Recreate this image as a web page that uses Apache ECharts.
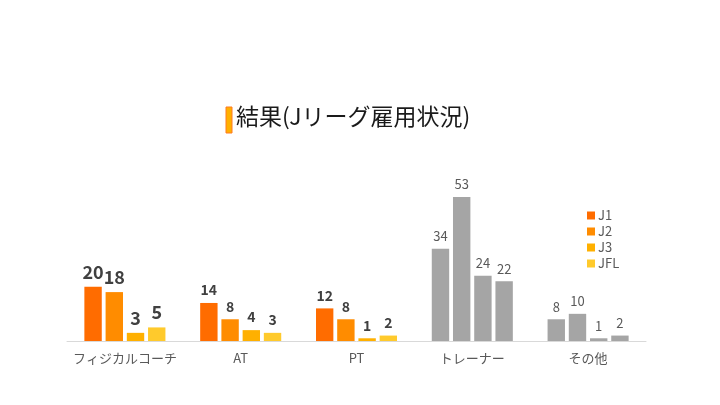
<!DOCTYPE html>
<html>
<head>
<meta charset="utf-8">
<script src="https://cdn.jsdelivr.net/npm/echarts@6/dist/echarts.min.js"></script>
<style>
  html, body { margin: 0; padding: 0; background: #fff; }
  #chart { width: 720px; height: 405px; }
</style>
</head>
<body>
<div id="chart"></div>
<script>
// data
const categories = ['フィジカルコーチ', 'AT', 'PT', 'トレーナー', 'その他']
const seriesNames = ['J1', 'J2', 'J3', 'JFL']
const j1 = [20, 14, 12, 34, 8]
const j2 = [18, 8, 8, 53, 10]
const j3 = [3, 4, 1, 24, 1]
const jfl = [5, 3, 2, 22, 2]

// styles
const colors = ['#FF6C00', '#FF8C00', '#FFB000', '#FFCA2C']
const gray = '#A5A5A5'
const font = '"Noto Sans CJK JP", "Noto Sans", sans-serif'
const labelFont = ['bold 18px', 'bold 14px', 'bold 14px', '13px', '13px']

const chart = echarts.init(document.getElementById('chart'))

const series = [j1, j2, j3, jfl].map((values, si) => ({
  name: seriesNames[si],
  type: 'bar',
  barGap: '22%',
  barCategoryGap: '30%',
  itemStyle: { color: colors[si] },
  data: values.map((v, ci) => {
    const grayed = ci >= 3
    const f = labelFont[ci].split(' ')
    return {
      value: v,
      itemStyle: grayed ? { color: gray } : undefined,
      label: {
        fontSize: parseInt(f[f.length - 1]),
        fontWeight: f.length > 1 ? 'bold' : 'normal',
        color: grayed ? '#595959' : '#404040'
      }
    }
  }),
  label: {
    show: true,
    position: 'top',
    distance: 6,
    fontFamily: font
  }
}))

chart.setOption({
  animation: false,
  textStyle: { fontFamily: font },
  graphic: [
    {
      type: 'rect',
      shape: { x: 226, y: 107, width: 6, height: 26 },
      style: { fill: '#FFB000', stroke: '#FF7A20', lineWidth: 1 }
    },
    {
      type: 'text',
      left: 236,
      top: 105,
      style: {
        text: '結果(Jリーグ雇用状況)',
        font: '23px "Noto Sans CJK JP", sans-serif',
        fill: '#1a1a1a'
      }
    }
  ],
  legend: {
    orient: 'vertical',
    left: 582,
    top: 204,
    itemWidth: 8,
    itemHeight: 8,
    itemGap: 3,
    icon: 'rect',
    textStyle: { color: '#595959', fontSize: 13, padding: [0, 0, 0, -2] },
    data: seriesNames.map((n, i) => ({ name: n, itemStyle: { color: colors[i] } }))
  },
  grid: { left: 67, right: 74, top: 178, bottom: 64 },
  xAxis: {
    type: 'category',
    data: categories,
    axisTick: { show: false },
    axisLine: { lineStyle: { color: '#D9D9D9', width: 1 } },
    axisLabel: { color: '#595959', fontSize: 13, margin: 11, interval: 0 }
  },
  yAxis: {
    type: 'value',
    min: 0,
    max: 60,
    show: false,
    splitLine: { show: false }
  },
  series
})
</script>
</body>
</html>
